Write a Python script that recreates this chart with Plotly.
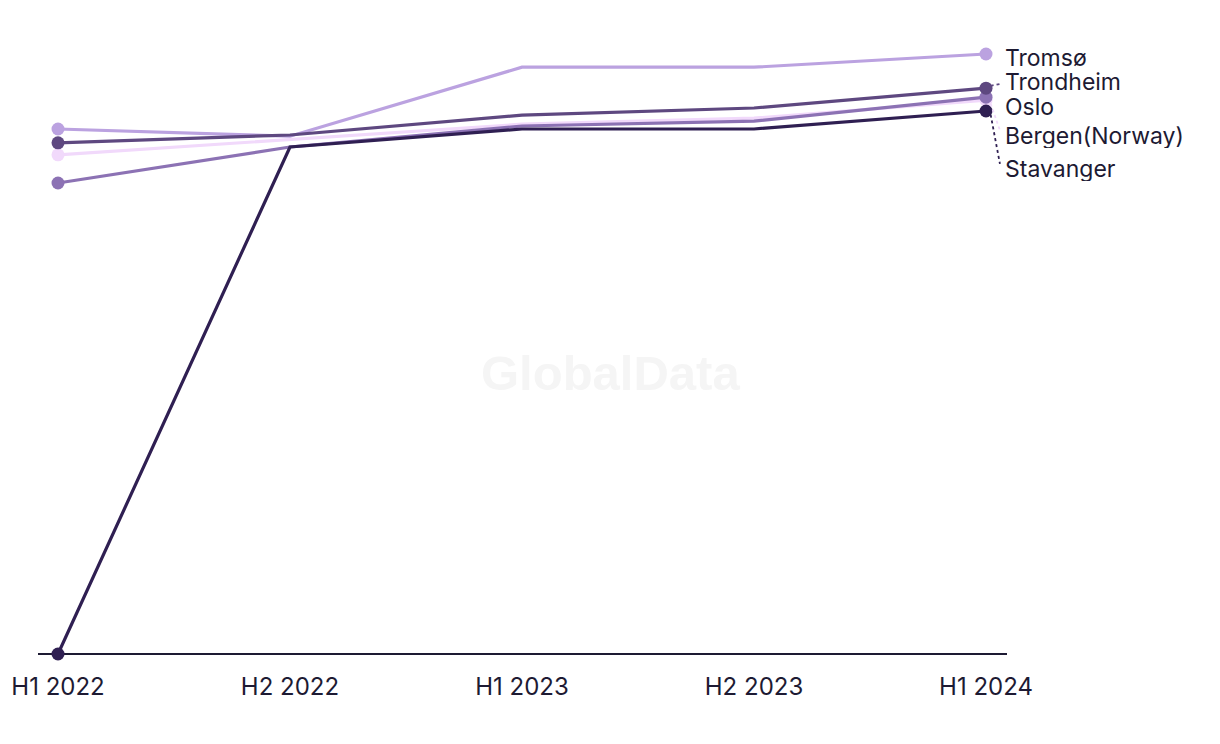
import plotly.graph_objects as go

periods = ["H1 2022", "H2 2022", "H1 2023", "H2 2023", "H1 2024"]
cities = ["Tromsø", "Trondheim", "Oslo", "Bergen(Norway)", "Stavanger"]
tromso = [87.5, 86.3, 97.8, 97.8, 100.0]
trondheim = [85.2, 86.5, 89.8, 91.0, 94.3]
oslo = [78.5, 84.5, 88.0, 88.8, 92.8]
bergen = [83.2, 85.8, 88.3, 89.3, 92.3]
stavanger = [0.0, 84.5, 87.5, 87.5, 90.5]
colors = ["#bba2e0", "#5e4880", "#8c72b4", "#f1d9fb", "#2f1f52"]
label_y = [99.4, 95.3, 91.2, 86.4, 80.8]
leader = [False, True, False, True, True]

series = [tromso, trondheim, oslo, bergen, stavanger]
xs = list(range(len(periods)))
fig = go.Figure()
draw_order = [3, 2, 0, 1, 4]
msize = [13, 0, 0, 0, 13]
for i in draw_order:
    fig.add_trace(go.Scatter(
        x=xs, y=series[i], mode="lines+markers", name=cities[i],
        line=dict(color=colors[i], width=3.2),
        marker=dict(size=msize, color=colors[i], opacity=1, line=dict(width=0)),
        showlegend=False, cliponaxis=False,
    ))

FONT = "Inter, Roboto, sans-serif"
TXT = "#1d1a33"
lx = 4.078
for i, c in enumerate(cities):
    fig.add_annotation(x=lx, y=label_y[i], text=c, xref="x", yref="y",
                       xanchor="left", yanchor="middle", showarrow=False,
                       height=24, borderpad=0,
                       font=dict(family=FONT, size=23, color=TXT))
    if leader[i]:
        end = series[i][-1]
        up = label_y[i] > end
        fig.add_shape(type="line", xref="x", yref="y",
                      x0=4.02, y0=end + (0.4 if up else -0.6),
                      x1=4.06, y1=label_y[i] + (-0.3 if up else 0.9),
                      line=dict(color=colors[i], width=1.8, dash="dot"))

fig.add_annotation(x=(610-38)/969, y=(654-373)/634, xref="paper", yref="paper", text="<b>GlobalData</b>",
                   showarrow=False, font=dict(family="Liberation Sans, Arial", size=49, color="#f5f5f5"))

fig.update_layout(
    width=1220, height=744, plot_bgcolor="white", paper_bgcolor="white",
    margin=dict(l=38, r=213, t=20, b=90),
    font=dict(family=FONT, color=TXT),
    xaxis=dict(range=[-20/232, 4 + 21/232], tickvals=xs, ticktext=periods,
               showgrid=False, zeroline=False, showline=False, ticks="outside",
               ticklen=11, tickcolor="rgba(0,0,0,0)",
               tickfont=dict(size=24, family=FONT, color=TXT)),
    yaxis=dict(range=[0, 634/6], showgrid=False, zeroline=True, zerolinecolor="#1d1a33",
               zerolinewidth=2, showticklabels=False, showline=False),
)
fig.write_html("out.html")
